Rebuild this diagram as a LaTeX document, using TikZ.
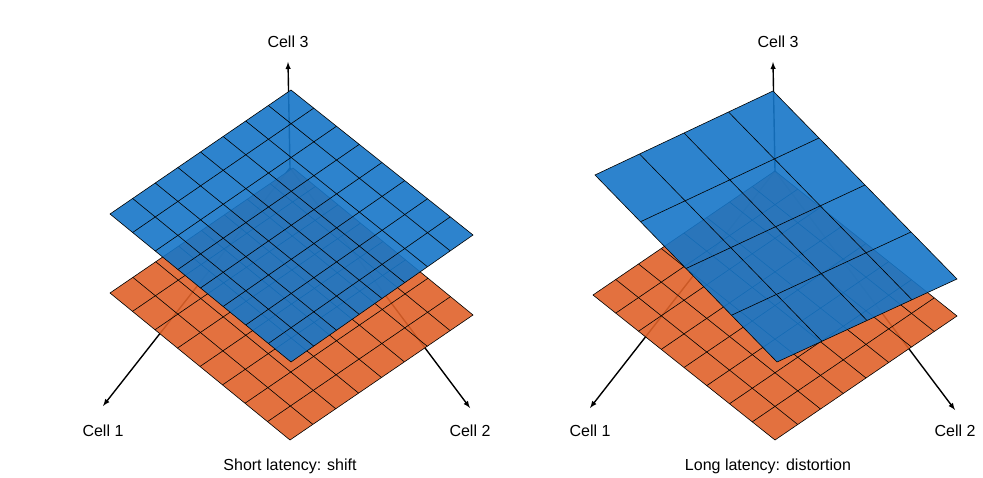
\documentclass[tikz,border=0pt]{standalone}
\usepackage{fontspec}
\setmainfont{Liberation Sans}
\usetikzlibrary{calc}
\definecolor{planeblue}{RGB}{22,118,200}
\definecolor{planeorange}{RGB}{224,98,42}
\tikzset{
  axis/.style={-latex, line width=1.4pt},
  lbl/.style={font=\fontsize{16}{18}\selectfont},
  planeline/.style={line width=0.6pt, black},
}
% plane: top, left, bottom, right, cells, list 1..n-1, colour
\newcommand{\gridplane}[7]{%
  \fill[#7, fill opacity=0.9] (#1)--(#2)--(#3)--(#4)--cycle;
  \foreach \i in {#6} {
    \draw[planeline] ($(#1)!\i/#5!(#2)$) -- ($(#4)!\i/#5!(#3)$);
    \draw[planeline] ($(#1)!\i/#5!(#4)$) -- ($(#2)!\i/#5!(#3)$);
  }
  \draw[planeline] (#1)--(#2)--(#3)--(#4)--cycle;
}
\begin{document}
\begin{tikzpicture}[x=1pt,y=-1pt]
\useasboundingbox (0,0) rectangle (983,478);

% Left panel: axes
\coordinate (oL) at (290,168);
\coordinate (zL) at (288,62);
\coordinate (xL) at (103,406);
\coordinate (yL) at (470,408);
\draw[axis] (oL) -- (zL);
\draw[axis] (oL) -- (xL);
\draw[axis] (oL) -- (yL);
\node[lbl] (z1) at (288,42) {Cell 3};
\node[lbl] (x1) at (103,431) {Cell 1};
\node[lbl] (y1) at (470,431) {Cell 2};

% Left panel: planes
\coordinate (a1) at (293,168); \coordinate (a2) at (110,293);
\coordinate (a3) at (290,440); \coordinate (a4) at (473,315);
\gridplane{a1}{a2}{a3}{a4}{8}{1,...,7}{planeorange}
\coordinate (b1) at (291,90);  \coordinate (b2) at (110,214);
\coordinate (b3) at (291,362); \coordinate (b4) at (473,235);
\gridplane{b1}{b2}{b3}{b4}{8}{1,...,7}{planeblue}
\node[lbl] (capL) at (290,466) {Short latency: shift};

% Right panel: axes
\coordinate (oR) at (775,171);
\coordinate (zR) at (773,62);
\coordinate (xR) at (590,408);
\coordinate (yR) at (955,410);
\draw[axis] (oR) -- (zR);
\draw[axis] (oR) -- (xR);
\draw[axis] (oR) -- (yR);
\node[lbl] (z2) at (778,42) {Cell 3};
\node[lbl] (x2) at (590,431) {Cell 1};
\node[lbl] (y2) at (955,431) {Cell 2};

% Right panel: planes
\coordinate (c1) at (775,171); \coordinate (c2) at (593,295);
\coordinate (c3) at (775,440); \coordinate (c4) at (957,316);
\gridplane{c1}{c2}{c3}{c4}{8}{1,...,7}{planeorange}
\coordinate (d1) at (773,91);  \coordinate (d2) at (595,175);
\coordinate (d3) at (777,362); \coordinate (d4) at (957,279);
\gridplane{d1}{d2}{d3}{d4}{4}{1,2,3}{planeblue}
\node[lbl] (capR) at (768,466) {Long latency: distortion};
\end{tikzpicture}
\end{document}
